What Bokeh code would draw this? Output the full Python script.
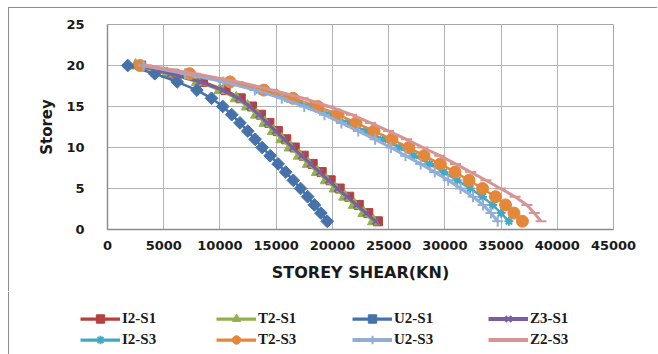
from bokeh.plotting import figure
from bokeh.models import Range1d, Legend, LegendItem, FixedTicker
from bokeh.embed import file_html
from bokeh.resources import INLINE

# storey numbers, bottom to top
storeys = list(range(1, 21))

# storey shear (kN) per storey, listed from storey 1 up to storey 20
i2_s1 = [24050, 23200, 22350, 21500, 20650, 19850, 19050, 18250, 17450, 16650,
         15900, 15150, 14400, 13650, 12850, 11850, 10500, 8500, 5900, 3000]
t2_s1 = [23650, 22800, 21950, 21100, 20250, 19450, 18650, 17850, 17050, 16250,
         15500, 14750, 14000, 13250, 12450, 11450, 10000, 8000, 5300, 2500]
u2_s1 = [19540, 18980, 18400, 17800, 17170, 16520, 15850, 15170, 14470, 13760,
         13130, 12480, 11780, 11050, 10250, 9250, 7950, 6200, 4200, 1800]
z3_s1 = [23850, 23000, 22150, 21300, 20450, 19650, 18850, 18050, 17250, 16450,
         15700, 14950, 14200, 13450, 12650, 11650, 10250, 8250, 5600, 2700]
i2_s3 = [35700, 35000, 34250, 33350, 32250, 31100, 29900, 28650, 27250, 25950,
         24500, 23000, 21400, 19900, 18100, 16000, 13500, 10600, 7100, 3000]
t2_s3 = [36900, 36150, 35400, 34500, 33350, 32150, 30900, 29600, 28150, 26800,
         25300, 23700, 22100, 20500, 18700, 16500, 13900, 10900, 7300, 2900]
u2_s3 = [34700, 34100, 33400, 32500, 31400, 30300, 29100, 27850, 26500, 25200,
         23800, 22300, 20800, 19300, 17500, 15500, 13100, 10300, 6900, 3200]
z2_s3 = [38550, 37950, 37300, 36250, 34950, 33650, 32300, 30950, 29550, 28050,
         26600, 25000, 23400, 21700, 19700, 17400, 14700, 11600, 7800, 3500]

x_ticks = [0, 5000, 10000, 15000, 20000, 25000, 30000, 35000, 40000, 45000]
y_ticks = [0, 5, 10, 15, 20, 25]

series = [
    ("I2-S1", i2_s1, "#b5403d", dict(marker="square", size=9), 2.5),
    ("T2-S1", t2_s1, "#90b24a", dict(marker="triangle", size=12), 2.5),
    ("U2-S1", u2_s1, "#4572ab", dict(marker="square", size=9, angle=0.785), 2.5),
    ("Z3-S1", z3_s1, "#7b5ea0", dict(marker="x", size=9), 3),
    ("I2-S3", i2_s3, "#42a8c3", dict(marker="asterisk", size=9), 2.5),
    ("T2-S3", t2_s3, "#e3883b", dict(marker="circle", size=12), 2.5),
    ("U2-S3", u2_s3, "#93aed6", dict(marker="cross", size=11), 3),
    ("Z2-S3", z2_s3, "#d69494", dict(marker="dash", size=11), 3),
]


def draw_series(fig, line_scale=1.0):
    renderers = []
    for name, vals, color, mk, lw in series:
        ln = fig.line(vals, storeys, line_color=color, line_width=lw * line_scale)
        thin = mk["marker"] in ("x", "asterisk", "cross", "dash")
        sc = fig.scatter(vals, storeys, fill_color=color, line_color=color,
                         line_width=2 if thin else 1, **mk)
        renderers.append((name, ln, sc))
    return renderers


# main chart
p = figure(width=649, height=284, output_backend="svg", toolbar_location=None,
           x_range=Range1d(0, 45000), y_range=Range1d(0, 25),
           min_border_left=98, min_border_right=45,
           min_border_top=16, min_border_bottom=63)
p.background_fill_color = "white"
p.border_fill_color = "white"
p.outline_line_color = "#a6a6a6"
p.outline_line_width = 1
p.styles = {"position": "absolute", "left": "8px", "top": "7px",
            "border-left": "1px solid #8c8c8c", "border-top": "1px solid #8c8c8c"}

for ax in (p.xaxis, p.yaxis):
    ax.major_tick_line_color = None
    ax.minor_tick_line_color = None
    ax.axis_line_color = "#8c8c8c"
    ax.axis_line_width = 1.5
    ax.major_label_text_font = "DejaVu Sans"
    ax.major_label_text_font_style = "bold"
    ax.major_label_text_font_size = "13px"
    ax.major_label_text_color = "#1a1a1a"
    ax.axis_label_text_font = "DejaVu Sans"
    ax.axis_label_text_font_style = "bold"
    ax.axis_label_text_color = "#1a1a1a"

p.xaxis.ticker = FixedTicker(ticks=x_ticks)
p.yaxis.ticker = FixedTicker(ticks=y_ticks)
p.xaxis.axis_label = "STOREY SHEAR(KN)"
p.yaxis.axis_label = "Storey"
p.xaxis.axis_label_text_font_size = "16px"
p.yaxis.axis_label_text_font_size = "15px"
p.xaxis.major_label_standoff = 5
p.yaxis.major_label_standoff = 17
p.xaxis.axis_label_standoff = 10
p.yaxis.axis_label_standoff = 7

p.xgrid.ticker = FixedTicker(ticks=x_ticks)
p.ygrid.ticker = FixedTicker(ticks=y_ticks)
p.xgrid.grid_line_color = "#b4b4b4"
p.ygrid.grid_line_color = "#b4b4b4"

draw_series(p)

# legend strip underneath: same series, drawn outside its visible range,
# so that only the legend entries show
lf = figure(width=649, height=62, output_backend="svg", toolbar_location=None,
            x_range=Range1d(-2, -1), y_range=Range1d(-2, -1),
            min_border_left=0, min_border_right=0, min_border_top=0, min_border_bottom=0)
lf.axis.visible = False
lf.grid.visible = False
lf.outline_line_color = None
lf.background_fill_color = "white"
lf.border_fill_color = "white"
lf.styles = {"position": "absolute", "left": "8px", "top": "292px",
             "border-left": "1px solid #8c8c8c"}

items = [LegendItem(label=name, renderers=[ln, sc])
         for name, ln, sc in draw_series(lf, line_scale=1.3)]
legend = Legend(items=items, location=(71, 4), orientation="horizontal", ncols=4,
                glyph_width=40, glyph_height=21, label_height=21, label_width=94,
                label_standoff=2, spacing=0, padding=0, margin=0,
                label_text_font="Liberation Serif", label_text_font_style="bold",
                label_text_font_size="15px", label_text_color="#1a1a1a",
                background_fill_alpha=0, border_line_color=None)
lf.add_layout(legend, "center")

open("out.html", "w").write(file_html([p, lf], INLINE))
